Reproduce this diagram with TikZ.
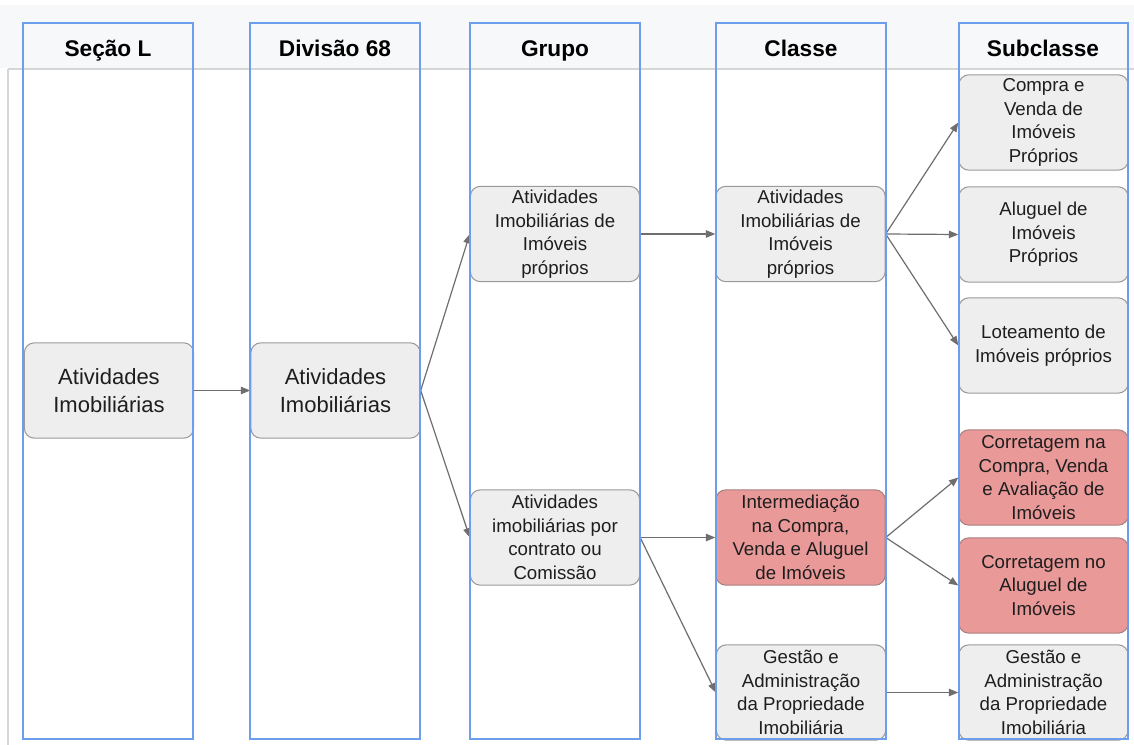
\documentclass[tikz,border=0pt]{standalone}
\usepackage{fontspec}
\setmainfont{Liberation Sans}
\usetikzlibrary{arrows.meta}
\definecolor{colblue}{HTML}{6D9EEB}
\definecolor{boxfill}{HTML}{EEEEEE}
\definecolor{boxline}{HTML}{9A9A9A}
\definecolor{redfill}{HTML}{EA9999}
\definecolor{redline}{HTML}{A88080}
\definecolor{bandgray}{HTML}{F7F8FA}
\definecolor{rulegray}{HTML}{D6D6D6}
\definecolor{arrowgray}{HTML}{6E6E6E}
\definecolor{txt}{HTML}{1E1E1E}
\tikzset{
  colbox/.style={draw=colblue, line width=1.6pt},
  gbox/.style={draw=boxline, fill=boxfill, line width=0.8pt, rounded corners=7.5pt,
    minimum width=127pt, minimum height=71.5pt, inner sep=0pt, align=center,
    text=txt, font=\fontsize{14}{17.6}\selectfont},
  bigbox/.style={gbox, font=\fontsize{16.5}{20.5}\selectfont},
  rbox/.style={gbox, draw=redline, fill=redfill},
  hdr/.style={font=\fontsize{17}{20}\selectfont\bfseries, text=black, inner sep=0pt, anchor=base},
  conn/.style={draw=arrowgray, line width=0.9pt, -{Triangle[length=7pt,width=5.5pt]}}
}
\begin{document}
\begin{tikzpicture}[x=0.75pt,y=-0.75pt]
\useasboundingbox (0,0) rectangle (1134,745);
\fill[white] (0,0) rectangle (1134,745);
\fill[bandgray] (0,5) rectangle (1134,68);
\draw[rulegray, line width=0.9pt] (8,69) -- (1134,69);
\draw[rulegray, line width=0.9pt] (8,69) -- (8,745);

% headers
\node[hdr] (h1) at (108,57) {Seção L};
\node[hdr] (h2) at (335,57) {Divisão 68};
\node[hdr] (h3) at (555,57) {Grupo};
\node[hdr] (h4) at (801,57) {Classe};
\node[hdr] (h5) at (1043,57) {Subclasse};

% boxes
\node[bigbox] (s) at (109,390.5) {Atividades\\Imobiliárias};
\node[bigbox] (d) at (335.5,390.5) {Atividades\\Imobiliárias};
\node[gbox] (g1) at (555,234) {Atividades\\Imobiliárias de\\Imóveis\\próprios};
\node[gbox] (g2) at (555,537.5) {Atividades\\imobiliárias por\\contrato ou\\Comissão};
\node[gbox] (c1) at (800.5,234) {Atividades\\Imobiliárias de\\Imóveis\\próprios};
\node[rbox] (c2) at (800.5,537.5) {Intermediação\\na Compra,\\Venda e Aluguel\\de Imóveis};
\node[gbox] (c3) at (801,692.5) {Gestão e\\Administração\\da Propriedade\\Imobiliária};
\node[gbox] (u1) at (1043.5,122.5) {Compra e\\Venda de\\Imóveis\\Próprios};
\node[gbox] (u2) at (1043.5,234.5) {Aluguel de\\Imóveis\\Próprios};
\node[gbox] (u3) at (1043.5,345.5) {Loteamento de\\Imóveis próprios};
\node[rbox] (u4) at (1043.5,477.5) {Corretagem na\\Compra, Venda\\e Avaliação de\\Imóveis};
\node[rbox] (u5) at (1043.5,585.5) {Corretagem no\\Aluguel de\\Imóveis};
\node[gbox] (u6) at (1043.5,692.5) {Gestão e\\Administração\\da Propriedade\\Imobiliária};

% connectors
\draw[conn] (s.east) -- (d.west);
\draw[conn] (d.east) -- (g1.west);
\draw[conn] (d.east) -- (g2.west);
\draw[conn] (g1.east) -- (c1.west);
\draw[conn] (g2.east) -- (c2.west);
\draw[conn] (g2.east) -- (c3.west);
\draw[conn] (c1.east) -- (u1.west);
\draw[conn] (c1.east) -- (u2.west);
\draw[conn] (c1.east) -- (u3.west);
\draw[conn] (c2.east) -- (u4.west);
\draw[conn] (c2.east) -- (u5.west);
\draw[conn] (c3.east) -- (u6.west);

% columns
\draw[colbox] (23,23) rectangle (193,739);
\draw[colbox] (250,23) rectangle (420,739);
\draw[colbox] (470,23) rectangle (640,739);
\draw[colbox] (716,23) rectangle (886,739);
\draw[colbox] (959,23) rectangle (1128,739);
\end{tikzpicture}
\end{document}
